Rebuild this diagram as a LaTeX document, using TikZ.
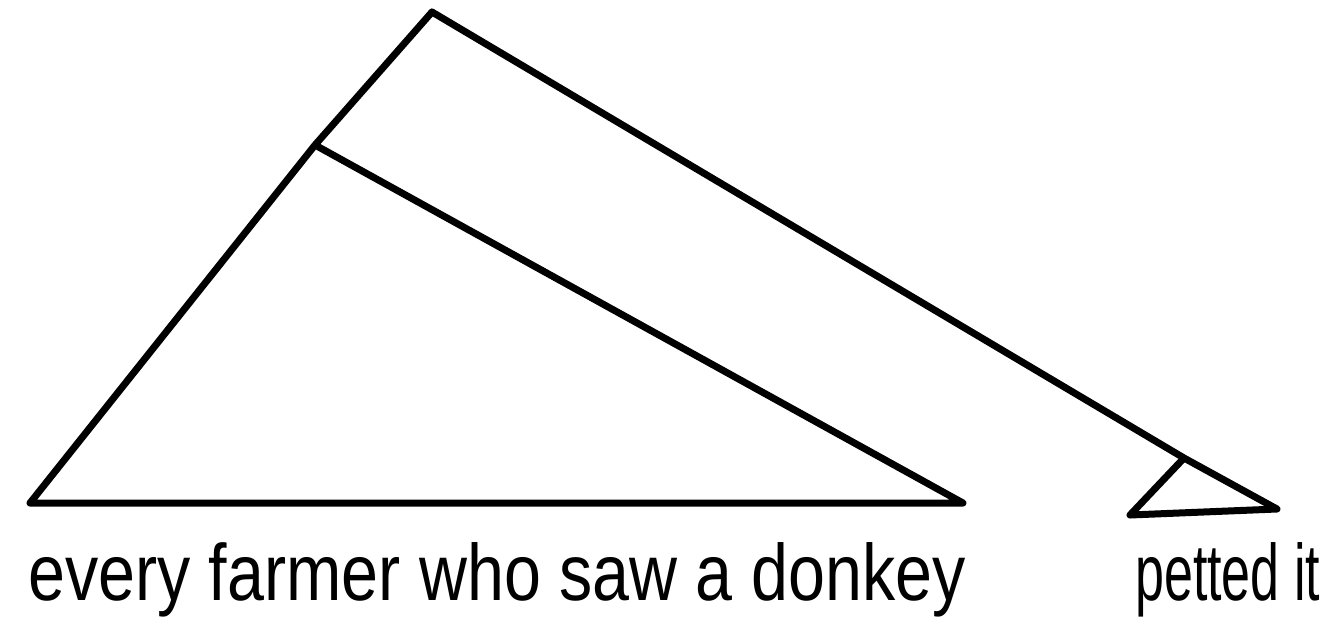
\documentclass[tikz,border=0pt]{standalone}
\usepackage{fontspec}
\setmainfont{Liberation Sans}
\usetikzlibrary{calc}

\begin{document}
\begin{tikzpicture}[
  x=1pt,y=-1pt,
  branch/.style={line width=7pt,line cap=round,line join=round},
  leaf/.style={font=\fontsize{80}{80}\selectfont,inner sep=0pt,anchor=base west}
]
\useasboundingbox (0,0) rectangle (1326,641);

% knoten des baums (pixelkoordinaten, y nach unten)
\coordinate (root) at (432,12);
\coordinate (np)   at (315,145);
\coordinate (npl)  at (30,503);
\coordinate (npr)  at (963,503);
\coordinate (vp)   at (1184,458);
\coordinate (vpl)  at (1130,515);
\coordinate (vpr)  at (1277,509);

% aeste
\draw[branch] (root) -- (np) -- (npl) -- (npr) -- (np);
\draw[branch] (root) -- (vp) -- (vpr) -- (vpl) -- (vp);

% blaetter
\node[leaf] (subj) at (28,600) {\scalebox{0.83}[1]{every farmer who saw a donkey}};
\node[leaf] (pred) at (1135,600) {\scalebox{0.65}[1]{petted it}};

\end{tikzpicture}
\end{document}
